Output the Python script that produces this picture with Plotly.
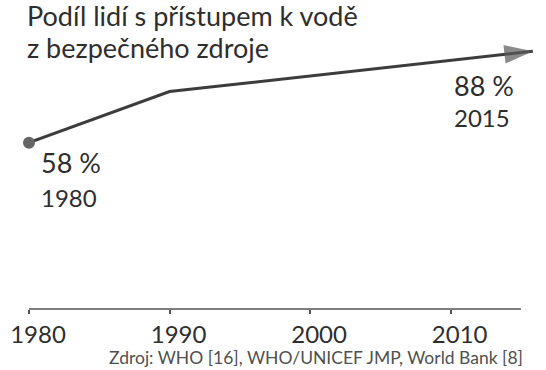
import plotly.graph_objects as go

# Share of people with access to safe drinking water
years = [1980, 1990, 2015]
share = [58, 75, 88]
tick_years = [1980, 1990, 2000, 2010]

title_lines = ["Podíl lidí s přístupem k vodě", "z bezpečného zdroje"]
source_text = "Zdroj: WHO [16], WHO/UNICEF JMP, World Bank [8]"

FONT = "Lato"
TEXT = "#2e2e2e"
LINE = "#3c3c3c"
GREY = "#666666"
AXIS = "#555555"

# The arrowhead continues the last segment a little past the final year
ARROW_EXT = 0.85
slope = (share[-1] - share[-2]) / (years[-1] - years[-2])
tip_x = years[-1] + ARROW_EXT
tip_y = share[-1] + slope * ARROW_EXT

fig = go.Figure()

fig.add_trace(go.Scatter(
    x=years, y=share, mode="lines",
    line=dict(color=LINE, width=3),
    hoverinfo="skip", cliponaxis=False,
))

fig.add_trace(go.Scatter(
    x=[years[-1], tip_x], y=[share[-1], tip_y], mode="lines+markers",
    line=dict(color=LINE, width=3),
    marker=dict(symbol=["circle", "arrow"], size=[0, 30], color="#5a5a5a",
                angleref="previous", line=dict(width=0)),
    hoverinfo="skip", cliponaxis=False,
))

fig.add_trace(go.Scatter(
    x=[years[0]], y=[share[0]], mode="markers",
    marker=dict(symbol="circle", size=12, color=GREY, line=dict(width=0)),
    hoverinfo="skip", cliponaxis=False,
))

annotations = [
    dict(x=0, y=1, xref="paper", yref="paper", text=title_lines[0],
         xanchor="left", yanchor="top", align="left", xshift=-4, yshift=43,
         font=dict(size=27, color=TEXT, family=FONT)),
    dict(x=0, y=1, xref="paper", yref="paper", text=title_lines[1],
         xanchor="left", yanchor="top", align="left", xshift=-4, yshift=11,
         font=dict(size=27, color=TEXT, family=FONT)),
    dict(x=years[0], y=share[0], text=f"{share[0]} %", xanchor="left", yanchor="middle",
         xshift=10, yshift=-20, font=dict(size=27, color=TEXT, family=FONT)),
    dict(x=years[0], y=share[0], text=str(years[0]), xanchor="left", yanchor="middle",
         xshift=10, yshift=-55, font=dict(size=24, color=TEXT, family=FONT)),
    dict(x=years[-1], y=share[-1], text=f"{share[-1]} %", xanchor="left", yanchor="middle",
         xshift=-69, yshift=-33, font=dict(size=27, color=TEXT, family=FONT)),
    dict(x=years[-1], y=share[-1], text=str(years[-1]), xanchor="left", yanchor="middle",
         xshift=-69, yshift=-65, font=dict(size=24, color=TEXT, family=FONT)),
    dict(x=years[-1], y=0, xref="x", yref="paper", text=source_text,
         xanchor="right", yanchor="middle", xshift=4, yshift=-48,
         font=dict(size=17.5, color="#505050", family=FONT)),
]
for a in annotations:
    a.setdefault("showarrow", False)

# Baseline runs only over the years covered by the data
shapes = [dict(type="line", xref="x", yref="paper", x0=years[0], x1=years[-1], y0=0, y1=0,
               line=dict(color=AXIS, width=1.5))]

fig.update_layout(
    width=546, height=370,
    margin=dict(l=29, r=4, t=40, b=61),
    paper_bgcolor="white", plot_bgcolor="white",
    showlegend=False,
    xaxis=dict(
        range=[1980, 2016.5], showgrid=False, zeroline=False, showline=False,
        ticks="outside", ticklen=4, tickwidth=1.5, tickcolor=AXIS,
        tickvals=tick_years, ticktext=[str(t) for t in tick_years],
        ticklabelshift=9,
        tickfont=dict(size=24, color=TEXT, family=FONT),
        fixedrange=True,
    ),
    yaxis=dict(range=[2.7, 92.15], visible=False, fixedrange=True),
    annotations=annotations,
    shapes=shapes,
)

fig.write_html("out.html", config={"displayModeBar": False})
